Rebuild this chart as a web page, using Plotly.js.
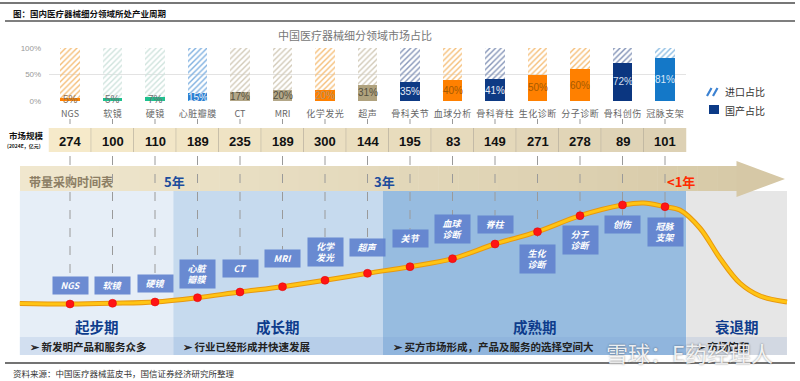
<!DOCTYPE html>
<html><head><meta charset="utf-8">
<script src="https://cdn.plot.ly/plotly-3.0.1.min.js"></script>
<style>html,body{margin:0;padding:0;background:#fff}#chart{width:800px;height:381px}</style>
</head><body><div id="chart"></div>
<script>
// ---------------- data ----------------
const categories = ['NGS','软镜','硬镜','心脏瓣膜','CT','MRI','化学发光','超声','骨科关节','血球分析','骨科脊柱','生化诊断','分子诊断','骨科创伤','冠脉支架'];
const domesticShare = [5,5,7,15,17,20,20,31,35,40,41,50,60,72,81];
const marketSize = [274,100,110,189,235,189,300,144,195,83,149,271,278,89,101];
const stageTags = ['NGS','软镜','硬镜','心脏<br>瓣膜','CT','MRI','化学<br>发光','超声','关节','血球<br>诊断','脊柱','生化<br>诊断','分子<br>诊断','创伤','冠脉<br>支架'];
const maturity = [6,6.7,8,12.3,18,23.3,29.7,36.7,43.3,51.3,66,78.3,94.3,105,103.3];
const curveLeadX = [-1.18], curveLeadY = [6.5];
const curvePeakX = [13.5], curvePeakY = [107];
const curveTailX = [14.35,14.82,15.29,15.76,16.24,16.87], curveTailY = [100,82,52,27,14,8];
const phaseNames = ['起步期','成长期','成熟期','衰退期'];
const phaseDesc = ['新发明产品和服务众多','行业已经形成并快速发展','买方市场形成，产品及服务的选择空间大','市场饱和'];
const phaseBounds = [-1.18, 2.43, 7.36, 14.5, 16.87];
const procureLabels = ['5年','3年','<1年'];
const procurePos = [2.47, 7.41, 14.38];
const yTicks = [0,50,100];

// ---------------- styles ----------------
const W=800,H=381;
const X=px=>px/W, Y=py=>1-py/H;
const CJK='"Noto Sans CJK SC","Noto Sans",sans-serif';
const LAT='"Liberation Sans",Arial,sans-serif';
const solidColors=['#FF8000','#1EC08E','#1EC08E','#2C80D2','#B3A788','#B3A788','#FF8000','#B0A27E','#0E3A84','#FF8000','#0E3A84','#FF8000','#FF8000','#0B3680','#1478C8'];
const hatchColors=['#F5BE78','#CFE3DD','#CFE3DD','#7FB0E0','#D2CAB8','#D2CAB8','#F5BE78','#D2CAB8','#8595B8','#F5BE78','#8595B8','#F5BE78','#F5BE78','#7F90B5','#8CBDE3'];
const textColors=['#8A7050','#707070','#707070','#E8F0FA','#55503F','#55503F','#B89468','#55503F','#E6ECF6','#A65A00','#E6ECF6','#A65A00','#A65A00','#D8E0F0','#D8E8F8'];
const tagOffset=[19,18.3,19,23.7,24,28.7,28.3,26.3,28.7,29.7,20,-27.3,-24.3,-19,-25.3];
const phaseColors=['#E6EEF7','#C6DAEE','#97BCE0','#E6E6E6'];
const idx = categories.map((_,i)=>i);
const spaced = s => /[\u4e00-\u9fff]/.test(s) ? s.split('').join('\u200A') : s;
const lerp=(a,b,t)=>a.map((v,k)=>Math.round(v+(b[k]-v)*t));
const rgb=c=>`rgb(${c[0]},${c[1]},${c[2]})`;

// curve
let pts=[];
curveLeadX.forEach((x,k)=>pts.push([x,curveLeadY[k]]));
idx.forEach(i=>pts.push([i,maturity[i]]));
curvePeakX.forEach((x,k)=>pts.push([x,curvePeakY[k]]));
curveTailX.forEach((x,k)=>pts.push([x,curveTailY[k]]));
pts.sort((a,b)=>a[0]-b[0]);
const cx=pts.map(p=>p[0]), cy=pts.map(p=>p[1]);

const traces=[
 {type:'bar',x:categories,y:domesticShare,xaxis:'x',yaxis:'y',width:0.45,
  marker:{color:solidColors,line:{width:0}},hoverinfo:'skip'},
 {type:'bar',x:categories,y:domesticShare.map(v=>100-v),xaxis:'x',yaxis:'y',width:0.45,
  marker:{color:'#ffffff',line:{width:0},pattern:{shape:'/',fgcolor:hatchColors,size:4,solidity:0.35}},hoverinfo:'skip'},
 {type:'scatter',mode:'lines',x:cx,y:cy,xaxis:'x2',yaxis:'y2',line:{shape:'spline',smoothing:1,color:'#E8980E',width:5},hoverinfo:'skip'},
 {type:'scatter',mode:'lines',x:cx,y:cy,xaxis:'x2',yaxis:'y2',line:{shape:'spline',smoothing:1,color:'#FFC414',width:3},hoverinfo:'skip'},
 {type:'scatter',mode:'markers',x:idx,y:maturity,xaxis:'x2',yaxis:'y2',marker:{size:8,color:'#FF1414',line:{width:0.5,color:'#E00000'}},hoverinfo:'skip'}
];

const shapes=[];
const ann=[];
// frame lines
shapes.push({type:'line',xref:'paper',yref:'paper',x0:X(0),x1:X(795),y0:Y(3),y1:Y(3),line:{color:'#777',width:2}});
shapes.push({type:'line',xref:'paper',yref:'paper',x0:X(5),x1:X(795),y0:Y(21),y1:Y(21),line:{color:'#555',width:1.5}});
shapes.push({type:'line',xref:'paper',yref:'paper',x0:X(5),x1:X(795),y0:Y(363),y1:Y(363),line:{color:'#444',width:1.5}});

// phases
phaseNames.forEach((n,p)=>{
  shapes.push({type:'rect',layer:'below',xref:'x2',yref:'paper',x0:phaseBounds[p],x1:phaseBounds[p+1],y0:Y(355),y1:Y(191),fillcolor:phaseColors[p],line:{width:0}});
  shapes.push({type:'rect',layer:'below',xref:'x2',yref:'paper',x0:phaseBounds[p],x1:phaseBounds[p+1],y0:Y(355),y1:Y(337),fillcolor:'rgba(110,150,205,0.17)',line:{width:0}});
  ann.push({xref:'x2',yref:'paper',x:(phaseBounds[p]+phaseBounds[p+1])/2,y:Y(326),text:n,showarrow:false,font:{family:CJK,size:14.5,color:'#0E3C8C',weight:'bold'}});
  ann.push({xref:'x2',yref:'paper',x:phaseBounds[p]+8/42.5,y:Y(346),xanchor:'left',text:'➢ '+phaseDesc[p],showarrow:false,font:{family:CJK,size:10.5,color:'#222',weight:'bold'}});
});

// arrow band (gradient by slices)
const N=36, a0=20, a1=737;
for(let k=0;k<N;k++){
  const t=k/(N-1);
  shapes.push({type:'rect',layer:'below',xref:'paper',yref:'paper',x0:X(a0+(a1-a0)*k/N),x1:X(a0+(a1-a0)*(k+1)/N+0.5),y0:Y(191),y1:Y(166),fillcolor:rgb(lerp([240,231,206],[215,202,168],t)),line:{width:0}});
}
shapes.push({type:'path',layer:'below',xref:'paper',yref:'paper',path:`M ${X(736.5)} ${Y(161)} L ${X(785)} ${Y(179)} L ${X(736.5)} ${Y(197)} Z`,fillcolor:'#D6C8A6',line:{width:0}});
ann.push({xref:'paper',yref:'paper',x:X(27),y:Y(181),xanchor:'left',text:'带量采购时间表',showarrow:false,font:{family:CJK,size:12,color:'#8C7E64',weight:'bold'}});
procureLabels.forEach((t,k)=>ann.push({xref:'x2',yref:'paper',x:procurePos[k],y:Y(181),text:t,showarrow:false,font:{family:CJK,size:13,color:k<2?'#1C4C9C':'#FF2A00',weight:'bold'}}));

// market size band
idx.forEach(i=>{
  shapes.push({type:'rect',layer:'below',xref:'x2',yref:'paper',x0:i-0.5,x1:i+0.5,y0:Y(152),y1:Y(128),fillcolor:rgb(lerp([246,234,202],[221,209,180],i/14)),line:{width:0}});
  if(i<14) shapes.push({type:'line',layer:'below',xref:'x2',yref:'paper',x0:i+0.5,x1:i+0.5,y0:Y(152),y1:Y(128),line:{color:'#A8A090',width:1}});
  shapes.push({type:'line',layer:'below',xref:'x2',yref:'paper',x0:i,x1:i,y0:Y(119),y1:Y(124),line:{color:'#999',width:1}});
  ann.push({xref:'x2',yref:'paper',x:i,y:Y(141),text:String(marketSize[i]),showarrow:false,font:{family:LAT,size:13,color:'#111',weight:'bold'}});
});
ann.push({xref:'paper',yref:'paper',x:X(26),y:Y(135),text:'市场规模',showarrow:false,font:{family:CJK,size:8.5,color:'#111',weight:'bold'}});
ann.push({xref:'paper',yref:'paper',x:X(24),y:Y(146),text:'(2024E，亿元)',showarrow:false,font:{family:CJK,size:5,color:'#111',weight:'bold'}});

// tags and dashed lines
idx.forEach(i=>{
  const two=stageTags[i].includes('<br>');
  const h=two?28:17;
  const c=maturity[i]+tagOffset[i];
  shapes.push({type:'line',layer:'below',xref:'x2',yref:'y2',x0:i,x1:i,y0:154,y1:c+h/2,line:{color:'#9A9A9A',width:1,dash:'dash'}});
  ann.push({xref:'x2',yref:'y2',x:i,y:c,text:stageTags[i],showarrow:false,width:35,height:h,borderpad:0,bgcolor:'rgba(98,131,207,0.93)',
    font:{family:CJK,size:9,color:'#fff',style:'italic',weight:'bold'}});
});

// bar labels
idx.forEach(i=>ann.push({xref:'x2',yref:'y',x:i,y:domesticShare[i]/2,text:domesticShare[i]+'%',showarrow:false,font:{family:LAT,size:10,color:textColors[i]}}));

// legend
shapes.push({type:'path',xref:'paper',yref:'paper',path:`M ${X(707)} ${Y(96)} L ${X(711.5)} ${Y(88)} M ${X(713)} ${Y(96)} L ${X(717.5)} ${Y(88)}`,line:{color:'#3C82D2',width:2.2}});
shapes.push({type:'rect',xref:'paper',yref:'paper',x0:X(709),x1:X(719),y0:Y(114),y1:Y(105),fillcolor:'#0B3A86',line:{width:0}});
ann.push({xref:'paper',yref:'paper',x:X(723),y:Y(92),xanchor:'left',text:'进口占比',showarrow:false,font:{family:CJK,size:10,color:'#333'}});
ann.push({xref:'paper',yref:'paper',x:X(723),y:Y(110),xanchor:'left',text:'国产占比',showarrow:false,font:{family:CJK,size:10,color:'#333'}});

// titles
ann.push({xref:'paper',yref:'paper',x:X(11),y:Y(13),xanchor:'left',text:'图：国内医疗器械细分领域所处产业周期',showarrow:false,font:{family:CJK,size:8.5,color:'#111',weight:'bold'}});
ann.push({xref:'paper',yref:'paper',x:X(355),y:Y(35),text:'中国医疗器械细分领域市场占比',showarrow:false,font:{family:CJK,size:11,color:'#777'}});
ann.push({xref:'paper',yref:'paper',x:X(11),y:Y(373),xanchor:'left',text:'资料来源：中国医疗器械蓝皮书，国信证券经济研究所整理',showarrow:false,font:{family:CJK,size:8.5,color:'#333'}});
ann.push({xref:'paper',yref:'paper',x:X(604),y:Y(352),xanchor:'left',text:'雪球：E药经理人',showarrow:false,font:{family:CJK,size:22,color:'rgba(255,255,255,0.9)',shadow:'0 0 2px rgba(0,0,0,0.55)'}});
ann.forEach(a=>{a.xanchor=a.xanchor||'center';a.yanchor=a.yanchor||'middle';});

const layout={
  width:W,height:H,margin:{l:0,r:0,t:0,b:0},paper_bgcolor:'#fff',plot_bgcolor:'rgba(0,0,0,0)',
  showlegend:false,barmode:'stack',
  xaxis:{type:'category',domain:[48.75/W,686.25/W],range:[-0.5,14.5],anchor:'y',tickvals:categories,ticktext:categories.map(spaced),
    tickangle:0,ticks:'outside',ticklen:4,tickcolor:'rgba(0,0,0,0)',showgrid:false,zeroline:false,showline:false,fixedrange:true,
    tickfont:{family:CJK,size:9,color:'#666'}},
  yaxis:{domain:[1-101/H,1-48/H],range:[0,100],anchor:'x',tickvals:yTicks,ticktext:yTicks.map(v=>v+'%'),
    ticks:'outside',ticklen:5,tickcolor:'rgba(0,0,0,0)',gridcolor:'#E3E3E3',zeroline:false,showline:false,fixedrange:true,
    tickfont:{family:LAT,size:8,color:'#999'}},
  xaxis2:{domain:[0,1],range:[-70/42.5,730/42.5],anchor:'y2',visible:false,fixedrange:true},
  yaxis2:{domain:[0,1],range:[-71,310],anchor:'x2',visible:false,fixedrange:true},
  shapes:shapes,annotations:ann
};
Plotly.newPlot('chart',traces,layout,{displayModeBar:false,staticPlot:true});
</script></body></html>
